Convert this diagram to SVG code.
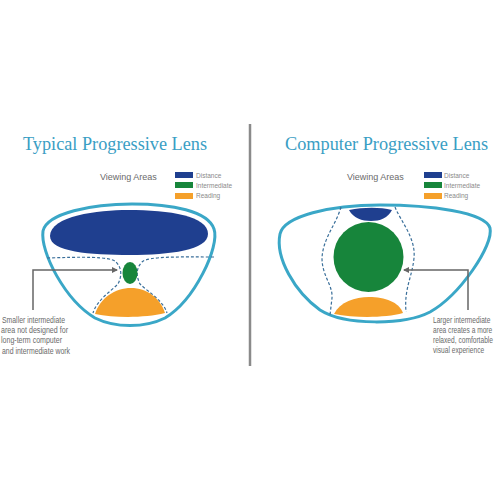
<svg xmlns="http://www.w3.org/2000/svg" width="500" height="500" viewBox="0 0 500 500">
<style>
.title{font-family:"Liberation Serif","DejaVu Serif",serif;font-size:18px;fill:#3a9ec4}
.va{font-family:"Liberation Sans Narrow","Liberation Sans",sans-serif;font-size:9px;fill:#6a6a6a}
.lg{font-family:"Liberation Sans Narrow","Liberation Sans",sans-serif;font-size:6.5px;fill:#8a8a8a}
.note{font-family:"Liberation Sans Narrow","Liberation Sans",sans-serif;font-size:8.5px;fill:#6a6a6a}
.lens{fill:#fff;stroke:#3aa7c7;stroke-width:3}
.dash{fill:none;stroke:#3a6f9a;stroke-width:1.2;stroke-dasharray:3 2}
.blue{fill:#1f3f8f}.green{fill:#17853b}.orange{fill:#f5a02a}
.call{fill:none;stroke:#666;stroke-width:1.5}
</style>
<defs>
<marker id="ah" markerWidth="6" markerHeight="6" refX="5" refY="3" orient="auto" markerUnits="userSpaceOnUse">
<path d="M0,0 L6,3 L0,6 Z" fill="#666"/>
</marker>
</defs>
<rect width="500" height="500" fill="#fff"/>
<line x1="250" y1="124" x2="250" y2="366" stroke="#8a8a8a" stroke-width="2.5"/>

<g id="left-panel">
<text class="title" x="23" y="150" textLength="184" lengthAdjust="spacingAndGlyphs">Typical Progressive Lens</text>
<text class="va" x="100" y="180">Viewing Areas</text>
<rect class="blue" x="175" y="172" width="18" height="6"/>
<rect class="green" x="175" y="182" width="18" height="6"/>
<rect class="orange" x="175" y="193" width="18" height="6"/>
<text class="lg" x="196" y="177.5">Distance</text>
<text class="lg" x="196" y="187.5">Intermediate</text>
<text class="lg" x="196" y="198">Reading</text>
</g>

<g id="left-lens">
<path class="lens" d="M132 204 C172 204 208 211 214 229 C220 246 195 300 165 318 C145 328 115 328 95 318 C65 300 40 252 43 231 C47 213 92 204 132 204 Z"/>
<path class="blue" d="M50 236 C50 216 98 210 128 210 C170 210 208 216 208 234 C208 250 170 255 130 255 C90 255 50 252 50 236 Z"/>
<path class="dash" d="M47 258 C80 257 110 256 116 262 C122 268 122 276 118 284 C110 292 97 300 93 313"/>
<path class="dash" d="M214 257 C180 257 148 256 142 262 C136 268 136 276 140 284 C148 292 163 300 167 313"/>
<ellipse class="green" cx="130" cy="273" rx="7.5" ry="11"/>
<path class="orange" d="M95 314 C100 298 115 288 131 288 C147 288 160 298 165 313 C145 318 115 318 95 314 Z"/>
</g>

<g id="right-panel">
<text class="title" x="285" y="150" textLength="203" lengthAdjust="spacingAndGlyphs">Computer Progressive Lens</text>
<text class="va" x="347" y="180">Viewing Areas</text>
<rect class="blue" x="424" y="172" width="18" height="6"/>
<rect class="green" x="424" y="182" width="18" height="6"/>
<rect class="orange" x="424" y="193" width="18" height="6"/>
<text class="lg" x="444" y="177.5">Distance</text>
<text class="lg" x="444" y="187.5">Intermediate</text>
<text class="lg" x="444" y="198">Reading</text>
</g>

<g id="right-lens">
<path class="lens" d="M380 205 C430 205 485 212 490 228 C494 245 460 295 430 312 C405 325 345 326 320 310 C295 292 275 258 280 234 C284 216 330 205 380 205 Z"/>
<path class="dash" d="M341 207 C336 225 323 238 322 258 C322 276 333 285 332 298 L330 315"/>
<path class="dash" d="M395 207 C401 222 416 238 414 258 C412 278 404 288 406 312"/>
<path class="blue" d="M349 210 C364 207 380 207 392 210 C388 218 380 221 371 221 C362 221 353 218 349 210 Z"/>
<circle class="green" cx="368.5" cy="257" r="35"/>
<path class="orange" d="M334 314 C340 302 355 297 369 297 C385 297 399 302 403 313 C385 318 355 318 334 314 Z"/>
</g>

<g id="connectors">
<path class="call" d="M33 310 L33 270 L117 270" marker-end="url(#ah)"/>
<path class="call" d="M468 310 L468 270 L404 270" marker-end="url(#ah)"/>
</g>

<g id="left-note">
<text class="note" x="2" y="323" textLength="63" lengthAdjust="spacingAndGlyphs">Smaller intermediate</text>
<text class="note" x="1" y="333" textLength="67" lengthAdjust="spacingAndGlyphs">area not designed for</text>
<text class="note" x="1" y="343" textLength="61" lengthAdjust="spacingAndGlyphs">long-term computer</text>
<text class="note" x="2" y="353.5" textLength="68" lengthAdjust="spacingAndGlyphs">and intermediate work</text>
</g>
<g id="right-note" transform="translate(433 0) scale(0.78 1)">
<text class="note" x="0" y="323">Larger intermediate</text>
<text class="note" x="0" y="333">area creates a more</text>
<text class="note" x="0" y="343">relaxed, comfortable</text>
<text class="note" x="0" y="353.5">visual experience</text>
</g>
</svg>
